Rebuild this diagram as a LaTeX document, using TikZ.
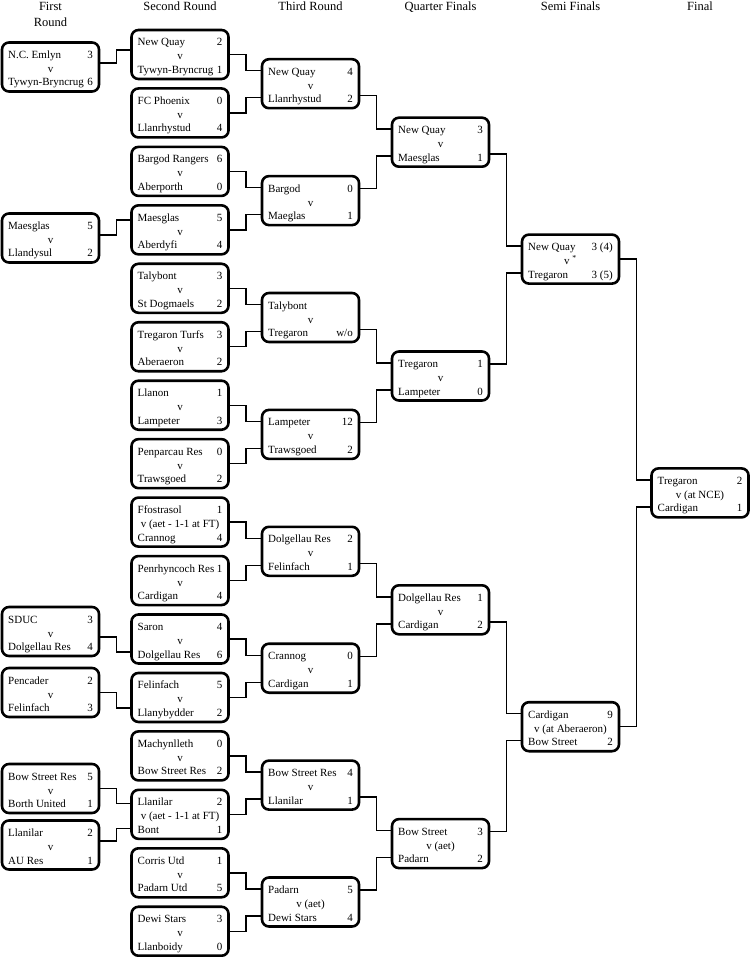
\documentclass[tikz,border=0pt]{standalone}
\usepackage{fontspec}
\setmainfont{Liberation Serif}
\usetikzlibrary{calc}
\tikzset{
  box/.style={draw, line width=2.6pt, rounded corners=7pt, minimum width=97pt, minimum height=49pt, inner sep=0pt, fill=white},
  conn/.style={line width=1.4pt},
  nm/.style={anchor=base west, inner sep=0pt, font=\fontsize{11}{13}\selectfont},
  sc/.style={anchor=base east, inner sep=0pt, font=\fontsize{11}{13}\selectfont},
  vv/.style={anchor=base, inner sep=0pt, font=\fontsize{11}{13}\selectfont},
  hdr/.style={anchor=base, inner sep=0pt, font=\fontsize{12.5}{14}\selectfont},
}
\newcommand\matchbox[8]{%
  \node[box] (#1) at (#2,#3) {};
  \node[nm] (#1-n1) at ($(#1.center)+(-42.5,-8.5)$) {#4};
  \node[sc] (#1-s1) at ($(#1.center)+(42.5,-8.5)$) {#5};
  \node[vv] (#1-v) at ($(#1.center)+(0,5.5)$) {#6};
  \node[nm] (#1-n2) at ($(#1.center)+(-42.5,19)$) {#7};
  \node[sc] (#1-s2) at ($(#1.center)+(42.5,19)$) {#8};
}
\begin{document}
\begin{tikzpicture}[x=1pt,y=-1pt]
\useasboundingbox (0,0) rectangle (750,957);
% headers
\node[hdr] (h1a) at (50.5,11) {First};
\node[hdr] (h1b) at (50.5,27) {Round};
\node[hdr] (h2) at (180,11) {Second Round};
\node[hdr] (h3) at (310.5,11) {Third Round};
\node[hdr] (h4) at (440.5,11) {Quarter Finals};
\node[hdr] (h5) at (570.5,11) {Semi Finals};
\node[hdr] (h6) at (700,11) {Final};
% first round
\matchbox{fr1}{50.5}{67}{N.C. Emlyn}{3}{v}{Tywyn-Bryncrug}{6}
\matchbox{fr2}{50.5}{238}{Maesglas}{5}{v}{Llandysul}{2}
\matchbox{fr3}{50.5}{631.5}{SDUC}{3}{v}{Dolgellau Res}{4}
\matchbox{fr4}{50.5}{692.5}{Pencader}{2}{v}{Felinfach}{3}
\matchbox{fr5}{50.5}{788.5}{Bow Street Res}{5}{v}{Borth United}{1}
\matchbox{fr6}{50.5}{845}{Llanilar}{2}{v}{AU Res}{1}
% second round
\matchbox{sr1}{180}{54.5}{New Quay}{2}{v}{Tywyn-Bryncrug}{1}
\matchbox{sr2}{180}{112.95}{FC Phoenix}{0}{v}{Llanrhystud}{4}
\matchbox{sr3}{180}{171.4}{Bargod Rangers}{6}{v}{Aberporth}{0}
\matchbox{sr4}{180}{229.85}{Maesglas}{5}{v}{Aberdyfi}{4}
\matchbox{sr5}{180}{288.3}{Talybont}{3}{v}{St Dogmaels}{2}
\matchbox{sr6}{180}{346.75}{Tregaron Turfs}{3}{v}{Aberaeron}{2}
\matchbox{sr7}{180}{405.2}{Llanon}{1}{v}{Lampeter}{3}
\matchbox{sr8}{180}{463.65}{Penparcau Res}{0}{v}{Trawsgoed}{2}
\matchbox{sr9}{180}{522.1}{Ffostrasol}{1}{v (aet - 1-1 at FT)}{Crannog}{4}
\matchbox{sr10}{180}{580.55}{Penrhyncoch Res}{1}{v}{Cardigan}{4}
\matchbox{sr11}{180}{639}{Saron}{4}{v}{Dolgellau Res}{6}
\matchbox{sr12}{180}{697.45}{Felinfach}{5}{v}{Llanybydder}{2}
\matchbox{sr13}{180}{755.9}{Machynlleth}{0}{v}{Bow Street Res}{2}
\matchbox{sr14}{180}{814.35}{Llanilar}{2}{v (aet - 1-1 at FT)}{Bont}{1}
\matchbox{sr15}{180}{872.8}{Corris Utd}{1}{v}{Padarn Utd}{5}
\matchbox{sr16}{180}{931.25}{Dewi Stars}{3}{v}{Llanboidy}{0}
% third round
\matchbox{tr1}{310.5}{83.7}{New Quay}{4}{v}{Llanrhystud}{2}
\matchbox{tr2}{310.5}{200.6}{Bargod}{0}{v}{Maeglas}{1}
\matchbox{tr3}{310.5}{317.5}{Talybont}{}{v}{Tregaron}{w/o}
\matchbox{tr4}{310.5}{434.4}{Lampeter}{12}{v}{Trawsgoed}{2}
\matchbox{tr5}{310.5}{551.3}{Dolgellau Res}{2}{v}{Felinfach}{1}
\matchbox{tr6}{310.5}{668.2}{Crannog}{0}{v}{Cardigan}{1}
\matchbox{tr7}{310.5}{785.1}{Bow Street Res}{4}{v}{Llanilar}{1}
\matchbox{tr8}{310.5}{902}{Padarn}{5}{v (aet)}{Dewi Stars}{4}
% quarter finals
\matchbox{qf1}{440.5}{142.2}{New Quay}{3}{v}{Maesglas}{1}
\matchbox{qf2}{440.5}{376}{Tregaron}{1}{v}{Lampeter}{0}
\matchbox{qf3}{440.5}{609.8}{Dolgellau Res}{1}{v}{Cardigan}{2}
\matchbox{qf4}{440.5}{843.6}{Bow Street}{3}{v (aet)}{Padarn}{2}
% semi finals
\matchbox{sf1}{570.5}{259.1}{New Quay}{3 (4)}{v \textsuperscript{*}}{Tregaron}{3 (5)}
\matchbox{sf2}{570.5}{726.7}{Cardigan}{9}{v (at Aberaeron)}{Bow Street}{2}
% final
\matchbox{fin}{700}{492.9}{Tregaron}{2}{v (at NCE)}{Cardigan}{1}
% connectors: first -> second round
\draw[conn] ($(fr1.east)+(0,-4)$) -- ++(16,0) |- ($(sr1.west)+(0,-4.5)$);
\draw[conn] ($(fr2.east)+(0,-3)$) -- ++(16,0) |- ($(sr4.west)+(0,-10)$);
\draw[conn] ($(fr3.east)+(0,5.5)$) -- ++(16,0) |- ($(sr11.west)+(0,13)$);
\draw[conn] (fr4.east) -- ++(16,0) |- ($(sr12.west)+(0,10.5)$);
\draw[conn] (fr5.east) -- ++(16,0) |- ($(sr14.west)+(0,-11)$);
\draw[conn] ($(fr6.east)+(0,-4)$) -- ++(16,0) |- ($(sr14.west)+(0,14)$);
% second -> third
\foreach \a/\b/\t in {sr1/sr2/tr1, sr3/sr4/tr2, sr5/sr6/tr3, sr7/sr8/tr4, sr9/sr10/tr5, sr11/sr12/tr6, sr13/sr14/tr7, sr15/sr16/tr8}{
  \draw[conn] (\a.east) -- ++(16,0) |- ($(\t.west)+(0,-13)$);
  \draw[conn] (\b.east) -- ++(16,0) |- ($(\t.west)+(0,14)$);
}
% third -> quarter
\foreach \a/\b/\t in {tr1/tr2/qf1, tr3/tr4/qf2, tr5/tr6/qf3, tr7/tr8/qf4}{
  \draw[conn] ($(\a.east)+(0,12)$) -- ++(16,0) |- ($(\t.west)+(0,-13)$);
  \draw[conn] ($(\b.east)+(0,-12)$) -- ++(16,0) |- ($(\t.west)+(0,14)$);
}
% quarter -> semi
\foreach \a/\b/\t in {qf1/qf2/sf1, qf3/qf4/sf2}{
  \draw[conn] ($(\a.east)+(0,12)$) -- ++(16,0) |- ($(\t.west)+(0,-13)$);
  \draw[conn] ($(\b.east)+(0,-12)$) -- ++(16,0) |- ($(\t.west)+(0,14)$);
}
% semi -> final
\draw[conn] (sf1.east) -- ++(16,0) |- ($(fin.west)+(0,-13)$);
\draw[conn] (sf2.east) -- ++(16,0) |- ($(fin.west)+(0,14)$);
\end{tikzpicture}
\end{document}
